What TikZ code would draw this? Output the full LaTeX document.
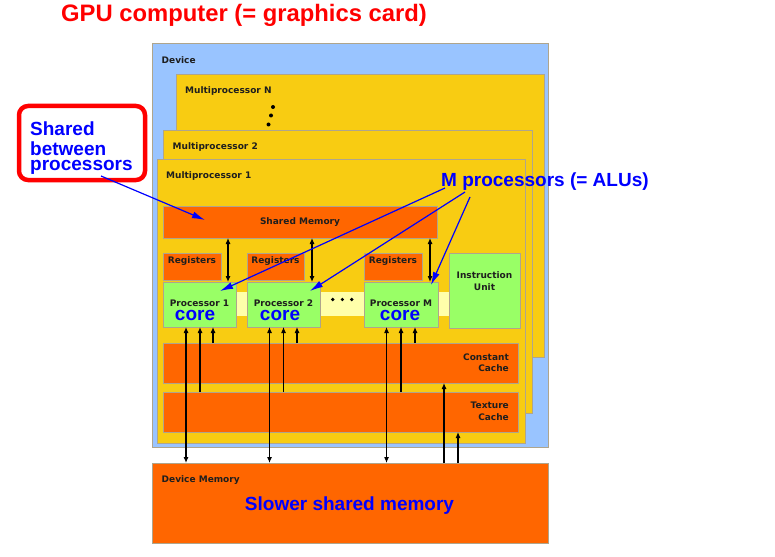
\documentclass[tikz,border=0pt]{standalone}
\usepackage{fontspec}
\setmainfont{Liberation Sans}
\newfontfamily\dvfont{DejaVu Sans}
\usetikzlibrary{arrows.meta}
\definecolor{devblue}{RGB}{153,196,255}
\definecolor{mpyellow}{RGB}{248,204,18}
\definecolor{memorange}{RGB}{255,102,0}
\definecolor{procgreen}{RGB}{153,255,102}
\definecolor{stripyellow}{RGB}{255,255,170}
\definecolor{edgegray}{RGB}{175,165,140}
\definecolor{txtdark}{RGB}{30,30,30}
\definecolor{annblue}{RGB}{0,0,255}
\definecolor{annred}{RGB}{255,0,0}
\tikzset{
  panel/.style={draw=edgegray, line width=0.8pt, inner sep=0pt, outer sep=0pt, anchor=north west},
  lbl/.style={font=\dvfont\bfseries\fontsize{9}{11}\selectfont, text=txtdark, inner sep=0pt},
  big/.style={font=\bfseries\fontsize{19}{19}\selectfont, text=annblue, inner sep=0pt},
  dotmark/.style={fill=black, draw=none},
  biarrow/.style={line width=1.1pt, {Latex[length=6pt,width=5pt]}-{Latex[length=6pt,width=5pt]}},
  uparrow/.style={line width=1.1pt, -{Latex[length=6pt,width=5pt]}},
  ann/.style={draw=annblue, line width=1.2pt, -{Latex[length=13pt,width=7pt]}},
}
\begin{document}
\begin{tikzpicture}[x=1pt,y=-1pt]
\useasboundingbox (0,0) rectangle (775,556);
\fill[white] (0,0) rectangle (775,556);

% title
\node[font=\bfseries\fontsize{23.8}{24}\selectfont, text=annred, anchor=base west, inner sep=0pt] (title) at (61,21.5) {GPU computer (= graphics card)};

% device and multiprocessors
\node[panel, fill=devblue, minimum width=396pt, minimum height=404pt] (dev) at (152,43) {};
\node[lbl, anchor=base west] (devlbl) at (161.5,64) {Device};
\node[panel, fill=mpyellow, minimum width=368pt, minimum height=283pt] (mpN) at (176,74) {};
\node[lbl, anchor=base west] (mpNlbl) at (185,93.3) {Multiprocessor N};
\fill[dotmark] (273,107) circle (2);
\fill[dotmark] (271,115.5) circle (2);
\fill[dotmark] (268.5,124.5) circle (2);
\node[panel, fill=mpyellow, minimum width=369pt, minimum height=283pt] (mp2) at (163,130) {};
\node[lbl, anchor=base west] (mp2lbl) at (172.5,149.3) {Multiprocessor 2};
\node[panel, fill=mpyellow, minimum width=368pt, minimum height=284pt] (mp1) at (157,159) {};
\node[lbl, anchor=base west] (mp1lbl) at (166,178.5) {Multiprocessor 1};

% shared memory
\node[panel, fill=memorange, minimum width=274pt, minimum height=32pt] (sm) at (163,206) {};
\node[lbl] (smlbl) at (sm.center) {Shared Memory};

% registers
\node[panel, fill=memorange, minimum width=58pt, minimum height=27pt] (reg1) at (163,253) {};
\node[panel, fill=memorange, minimum width=57pt, minimum height=27pt] (reg2) at (247,253) {};
\node[panel, fill=memorange, minimum width=58pt, minimum height=27pt] (regM) at (364,253) {};
\node[lbl, anchor=base] (reg1lbl) at (192,263.5) {Registers};
\node[lbl, anchor=base] (reg2lbl) at (275.5,263.5) {Registers};
\node[lbl, anchor=base] (regMlbl) at (393,263.5) {Registers};

% strip behind processors
\fill[stripyellow] (236,292) rectangle (449,316);

% processors
\node[panel, fill=procgreen, minimum width=73pt, minimum height=45pt] (p1) at (163,282) {};
\node[panel, fill=procgreen, minimum width=73pt, minimum height=45pt] (p2) at (247,282) {};
\node[panel, fill=procgreen, minimum width=74pt, minimum height=45pt] (pM) at (364,282) {};
\node[lbl, anchor=base] (p1lbl) at (199.5,306) {Processor 1};
\node[lbl, anchor=base] (p2lbl) at (283.5,306) {Processor 2};
\node[lbl, anchor=base] (pMlbl) at (401,306) {Processor M};
\node[big, anchor=base] (core1) at (195,320.5) {core};
\node[big, anchor=base] (core2) at (280,320.5) {core};
\node[big, anchor=base] (coreM) at (400,320.5) {core};
\fill[dotmark] (332.7,299.5) circle (1.8);
\fill[dotmark] (342.3,299.5) circle (1.8);
\fill[dotmark] (351.7,299.5) circle (1.8);

% instruction unit
\node[panel, fill=procgreen, minimum width=71pt, minimum height=75pt] (iu) at (449,253) {};
\node[lbl, anchor=base] (iulbl1) at (484.5,278.3) {Instruction};
\node[lbl, anchor=base] (iulbl2) at (484.5,290) {Unit};

% caches
\node[panel, fill=memorange, minimum width=355pt, minimum height=40pt] (cc) at (163,343) {};
\node[lbl, anchor=base east] (cclbl1) at (509,360) {Constant};
\node[lbl, anchor=base east] (cclbl2) at (509,371.7) {Cache};
\node[panel, fill=memorange, minimum width=355pt, minimum height=40pt] (tc) at (163,392) {};
\node[lbl, anchor=base east] (tclbl1) at (509,408.7) {Texture};
\node[lbl, anchor=base east] (tclbl2) at (509,420) {Cache};

% device memory
\node[panel, fill=memorange, minimum width=396pt, minimum height=80pt] (dm) at (152,463) {};
\node[lbl, anchor=base west] (dmlbl) at (161.5,482.7) {Device Memory};
\node[big, anchor=base] (slow) at (349.5,510.5) {Slower shared memory};

% black arrows: shared memory <-> processors
\draw[biarrow] (228,0 |- sm.south) -- (228,0 |- p1.north);
\draw[biarrow] (312,0 |- sm.south) -- (312,0 |- p2.north);
\draw[biarrow] (430,0 |- sm.south) -- (430,0 |- pM.north);

% processors <-> device memory and caches
\draw[biarrow] (186,0 |- p1.south) -- (186,0 |- dm.north);
\draw[uparrow] (200,0 |- tc.north) -- (200,0 |- p1.south);
\draw[uparrow] (213,0 |- cc.north) -- (213,0 |- p1.south);
\draw[biarrow] (269.5,0 |- p2.south) -- (269.5,0 |- dm.north);
\draw[uparrow] (283.5,0 |- tc.north) -- (283.5,0 |- p2.south);
\draw[uparrow] (297,0 |- cc.north) -- (297,0 |- p2.south);
\draw[biarrow] (386.5,0 |- pM.south) -- (386.5,0 |- dm.north);
\draw[uparrow] (401,0 |- tc.north) -- (401,0 |- pM.south);
\draw[uparrow] (415,0 |- cc.north) -- (415,0 |- pM.south);
\draw[uparrow] (444,0 |- dm.north) -- (444,0 |- cc.south);
\draw[uparrow] (458,0 |- dm.north) -- (458,0 |- tc.south);

% annotation: shared between processors
\node[draw=annred, line width=4.5pt, rounded corners=9pt, minimum width=126pt, minimum height=74pt, inner sep=0pt, outer sep=0pt, anchor=north west] (sbox) at (19,106) {};
\node[big, anchor=base west] (sb1) at (30,135.7) {Shared};
\node[big, anchor=base west] (sb2) at (30,155.7) {between};
\node[big, anchor=base west] (sb3) at (30,170.7) {processors};
\coordinate (sbtail) at (101,176);
\coordinate (sbhead) at (205,220);
\draw[ann] (sbtail) -- (sbhead);

% annotation: M processors
\node[big, anchor=base west] (mproc) at (441,186) {M processors (= ALUs)};
\coordinate (mt1) at (445,188);
\coordinate (mt2) at (465,192);
\coordinate (mt3) at (470,197);
\coordinate (mh1) at (220,291);
\coordinate (mh2) at (310,291);
\coordinate (mh3) at (431,285);
\draw[ann] (mt1) -- (mh1);
\draw[ann] (mt2) -- (mh2);
\draw[ann] (mt3) -- (mh3);
\end{tikzpicture}
\end{document}
